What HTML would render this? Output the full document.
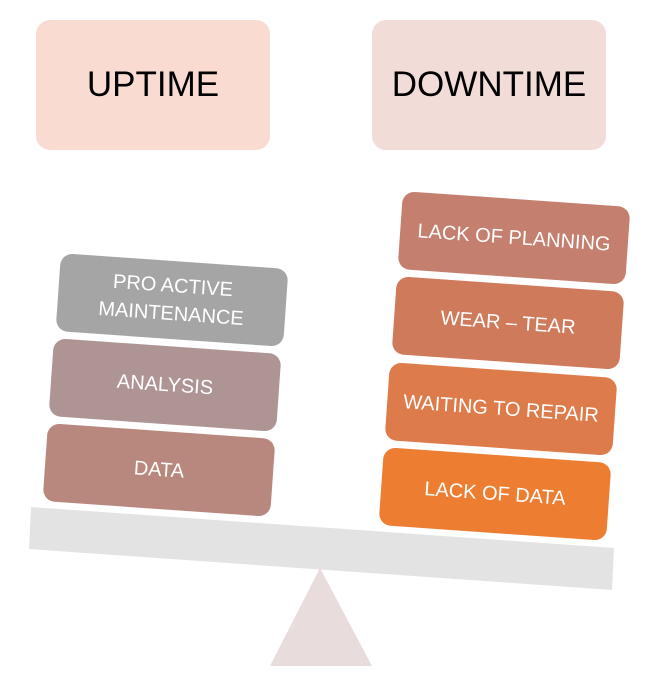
<!DOCTYPE html>
<html><head><style>
body{margin:0;width:657px;height:681px;background:#fff;position:relative;overflow:hidden;font-family:"Liberation Sans",sans-serif}
.top{position:absolute;top:20px;width:234px;height:130px;border-radius:14px;display:flex;align-items:center;justify-content:center;font-size:35px;color:#000}
.b{position:absolute;width:228px;height:78px;border-radius:12px;color:#fff;font-size:20px;display:flex;align-items:center;justify-content:center;text-align:center;line-height:28px;transform:translate(-50%,-50%) rotate(4deg)}
</style></head><body>
<div class="top" style="left:36px;background:#f9dbd2">UPTIME</div>
<div class="top" style="left:372px;background:#f1dcd8">DOWNTIME</div>
<svg width="657" height="681" style="position:absolute;left:0;top:0">
<polygon points="320,568 270,666 372,666" fill="#e8dcdc"/>
<polygon points="31,507 614,548 612,590 29,549" fill="#e3e3e3"/>
</svg>
<div class="b" style="left:172px;top:300px;background:#a5a5a5">PRO ACTIVE<br>MAINTENANCE</div>
<div class="b" style="left:165px;top:385px;background:#ae9493">ANALYSIS</div>
<div class="b" style="left:159px;top:470px;background:#b8887f">DATA</div>
<div class="b" style="left:514px;top:238px;background:#c47f6e">LACK OF PLANNING</div>
<div class="b" style="left:508px;top:323px;background:#d07a5c">WEAR – TEAR</div>
<div class="b" style="left:501px;top:409px;background:#de7b4a">WAITING TO REPAIR</div>
<div class="b" style="left:495px;top:494px;background:#ed7d31">LACK OF DATA</div>
</body></html>
